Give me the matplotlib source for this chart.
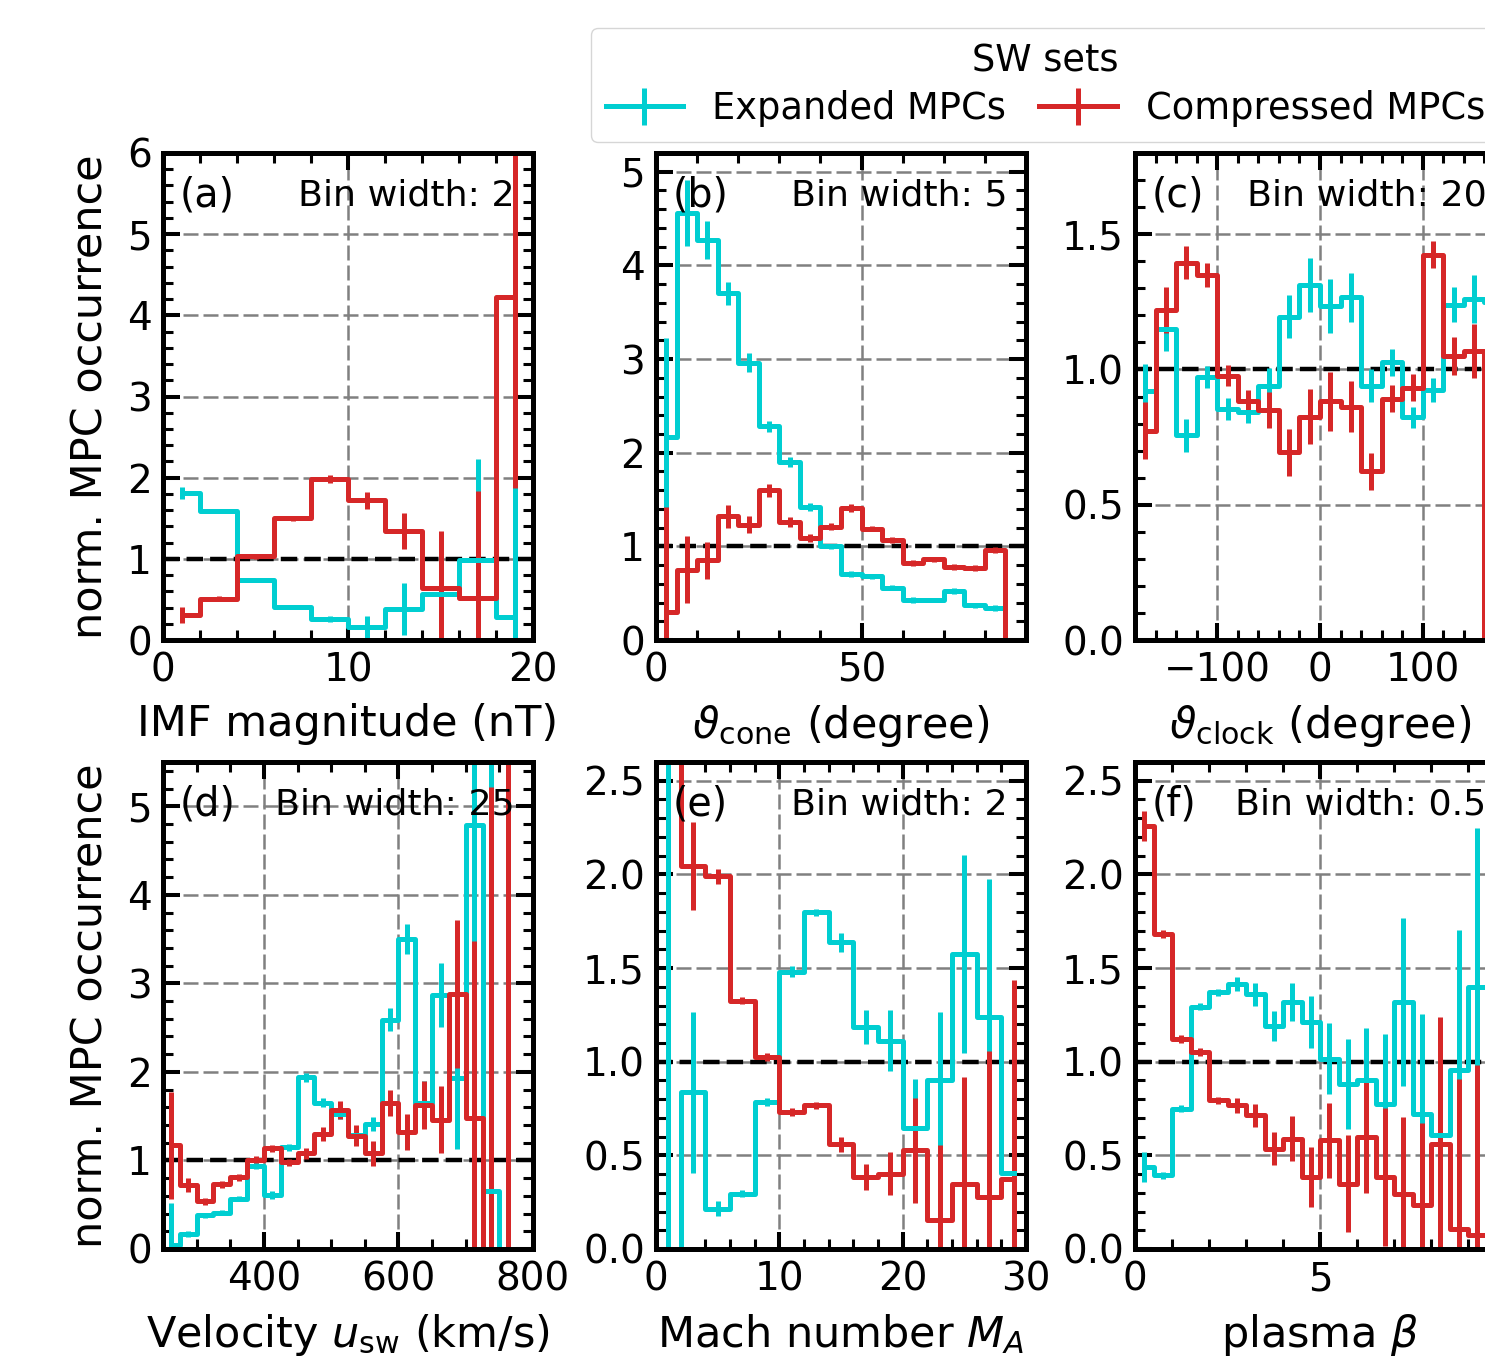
import numpy as np
import matplotlib
matplotlib.use('Agg')
import matplotlib.pyplot as plt
from matplotlib.ticker import MultipleLocator, FuncFormatter

nan = np.nan

# ---------------- data ----------------
a_x = [1, 3, 5, 7, 9, 11, 13, 15, 17, 19]
a_exp = [1.81, 1.59, 0.74, 0.41, 0.26, 0.16, 0.38, 0.57, 0.99, 0.285]
a_exp_err = [0.07, 0.03, 0.02, 0.02, 0.04, 0.14, 0.32, 0.5, 1.24, 1.6]
a_cmp = [0.31, 0.51, 1.03, 1.50, 1.98, 1.72, 1.34, 0.64, 0.52, 4.23]
a_cmp_err = [0.1, 0.03, 0.03, 0.03, 0.05, 0.1, 0.22, 0.7, 1.31, 2.36]

b_x = [2.5, 7.5, 12.5, 17.5, 22.5, 27.5, 32.5, 37.5, 42.5, 47.5, 52.5, 57.5,
       62.5, 67.5, 72.5, 77.5, 82.5, 87.5]
b_exp = [2.17, 4.56, 4.27, 3.70, 2.96, 2.28, 1.90, 1.42, 1.00, 0.705, 0.68, 0.56,
         0.43, 0.43, 0.52, 0.37, 0.34, nan]
b_exp_err = [1.05, 0.35, 0.2, 0.12, 0.1, 0.06, 0.05, 0.04, 0.03, 0.03, 0.03, 0.03,
             0.03, 0.02, 0.03, 0.03, 0.03, nan]
b_cmp = [0.30, 0.75, 0.85, 1.32, 1.23, 1.60, 1.26, 1.09, 1.21, 1.41, 1.19, 1.07,
         0.82, 0.86, 0.78, 0.77, 0.96, 0.0]
b_cmp_err = [1.12, 0.36, 0.2, 0.12, 0.09, 0.07, 0.05, 0.04, 0.04, 0.04, 0.03, 0.03,
             0.03, 0.03, 0.03, 0.03, 0.03, 0.0]

c_x = [-170, -150, -130, -110, -90, -70, -50, -30, -10, 10, 30, 50, 70, 90,
       110, 130, 150, 170]
c_exp = [0.92, 1.15, 0.756, 0.971, 0.854, 0.842, 0.94, 1.195, 1.313, 1.235, 1.267,
         0.94, 1.026, 0.823, 0.925, 1.239, 1.26, 1.25]
c_exp_err = [0.1, 0.08, 0.06, 0.04, 0.04, 0.04, 0.065, 0.08, 0.1, 0.1, 0.09, 0.06,
             0.05, 0.04, 0.045, 0.065, 0.09, 0.09]
c_cmp = [0.774, 1.22, 1.395, 1.35, 0.977, 0.885, 0.85, 0.694, 0.826, 0.882, 0.863,
         0.623, 0.892, 0.932, 1.424, 1.05, 1.069, 0.0]
c_cmp_err = [0.105, 0.085, 0.06, 0.045, 0.04, 0.04, 0.066, 0.086, 0.1, 0.11, 0.095,
             0.07, 0.05, 0.05, 0.05, 0.07, 0.1, 0.0]

d_x = [262.5, 287.5, 312.5, 337.5, 362.5, 387.5, 412.5, 437.5, 462.5, 487.5, 512.5,
       537.5, 562.5, 587.5, 612.5, 637.5, 662.5, 687.5, 712.5, 737.5, 762.5, 787.5]
d_exp = [0.05, 0.17, 0.38, 0.41, 0.57, 0.94, 0.61, 1.147, 1.94, 1.65, 1.52, 1.29,
         1.41, 2.59, 3.50, 1.65, 2.87, 1.93, 4.785, 0.65, 0.0, nan]
d_exp_err = [0.47, 0.03, 0.03, 0.03, 0.03, 0.04, 0.04, 0.04, 0.05, 0.05, 0.05, 0.06,
             0.08, 0.13, 0.17, 0.25, 0.36, 0.8, 1.5, 5.0, 0.0, nan]
d_cmp = [1.17, 0.72, 0.54, 0.73, 0.81, 1.01, 1.14, 0.98, 1.08, 1.30, 1.57, 1.28,
         1.08, 1.65, 1.32, 1.63, 1.46, 2.88, 1.48, 0.0, 0.0, nan]
d_cmp_err = [0.6, 0.08, 0.04, 0.04, 0.04, 0.04, 0.04, 0.04, 0.06, 0.08, 0.1, 0.12,
             0.14, 0.15, 0.2, 0.27, 0.38, 0.84, 2.0, 5.22, 6.0, nan]

e_x = [1, 3, 5, 7, 9, 11, 13, 15, 17, 19, 21, 23, 25, 27, 29]
e_exp = [0.0, 0.837, 0.216, 0.296, 0.784, 1.48, 1.797, 1.637, 1.184, 1.113, 0.646,
         0.903, 1.575, 1.237, 0.406]
e_exp_err = [3.0, 0.43, 0.04, 0.02, 0.02, 0.03, 0.02, 0.05, 0.09, 0.165, 0.26,
             0.36, 0.53, 0.74, 0.9]
e_cmp = [3.2, 2.046, 1.99, 1.326, 1.024, 0.731, 0.767, 0.559, 0.384, 0.402, 0.527,
         0.157, 0.349, 0.278, 0.376]
e_cmp_err = [0.4, 0.235, 0.04, 0.02, 0.02, 0.02, 0.02, 0.04, 0.07, 0.115, 0.28,
             0.4, 0.57, 0.78, 1.06]

f_x = [0.25, 0.75, 1.25, 1.75, 2.25, 2.75, 3.25, 3.75, 4.25, 4.75, 5.25, 5.75,
       6.25, 6.75, 7.25, 7.75, 8.25, 8.75, 9.25, 9.75]
f_exp = [0.438, 0.393, 0.749, 1.294, 1.37, 1.415, 1.36, 1.193, 1.318, 1.211, 1.015,
         0.882, 0.9, 0.776, 1.318, 0.722, 0.607, 0.953, 1.397, 1.2]
f_exp_err = [0.08, 0.02, 0.02, 0.02, 0.02, 0.035, 0.06, 0.08, 0.1, 0.14, 0.19, 0.24,
             0.28, 0.37, 0.45, 0.53, 0.6, 0.75, 0.85, 0.9]
f_cmp = [2.259, 1.682, 1.122, 1.051, 0.793, 0.767, 0.713, 0.536, 0.589, 0.384, 0.58,
         0.349, 0.6, 0.384, 0.296, 0.233, 0.56, 0.109, 0.073, 0.05]
f_cmp_err = [0.08, 0.02, 0.02, 0.02, 0.02, 0.04, 0.06, 0.09, 0.12, 0.16, 0.2, 0.26,
             0.3, 0.37, 0.41, 0.44, 0.68, 0.8, 0.91, 1.0]

panel_tags = ['(a)', '(b)', '(c)', '(d)', '(e)', '(f)']
bin_texts = ['Bin width: 2', 'Bin width: 5', 'Bin width: 20',
             'Bin width: 25', 'Bin width: 2', 'Bin width: 0.5']
xlabels = ['IMF magnitude (nT)', r'$\vartheta_{\mathrm{cone}}$ (degree)',
           r'$\vartheta_{\mathrm{clock}}$ (degree)',
           r'Velocity $u_{\mathrm{sw}}$ (km/s)', r'Mach number $M_A$',
           r'plasma $\beta$']
ylabel = 'norm. MPC occurrence'
series_labels = ['Expanded MPCs', 'Compressed MPCs']
legend_title = 'SW sets'

# ---------------- style ----------------
CYAN = '#00CED1'
RED = '#D62728'
W, H = 1485, 1367
TICK_FS = 28
LABEL_FS = 31
TAG_FS = 28.5
TEXT_FS = 26.2
LEG_FS = 26.5

fig = plt.figure(figsize=(W / 100, H / 100), dpi=100)


def ax_at(left, top, w=370, h=487):
    return fig.add_axes([left / W, 1 - (top + h) / H, w / W, h / H])


specs = [
    (163, 153, a_x, a_exp, a_exp_err, a_cmp, a_cmp_err, (0, 20), (0, 6), 10, 2, 1, 0.2),
    (656, 153, b_x, b_exp, b_exp_err, b_cmp, b_cmp_err, (0, 90), (0, 5.2), 50, 10, 1, 0.2),
    (1135, 153, c_x, c_exp, c_exp_err, c_cmp, c_cmp_err, (-180, 180), (0, 1.8), 100, 20, 0.5, 0.1),
    (163, 762, d_x, d_exp, d_exp_err, d_cmp, d_cmp_err, (250, 800), (0, 5.5), 200, 50, 1, 0.2),
    (656, 762, e_x, e_exp, e_exp_err, e_cmp, e_cmp_err, (0, 30), (0, 2.6), 10, 2, 0.5, 0.1),
    (1135, 762, f_x, f_exp, f_exp_err, f_cmp, f_cmp_err, (0, 10), (0, 2.6), 5, 1, 0.5, 0.1),
]

handles = None
for i, (l, t, x, ye, ee, yc, ec, xl, yl, xmaj, xmin, ymaj, ymin) in enumerate(specs):
    ax = ax_at(l, t)
    ax.set_axisbelow(True)
    ax.grid(True, which='major', color='gray', linestyle=(0, (6, 2)), lw=1.8)
    ax.axhline(1.0, color='k', ls='--', lw=3.2, zorder=1.5)
    h1 = ax.errorbar(x, ye, yerr=ee, drawstyle='steps-mid', color=CYAN,
                     lw=3.6, elinewidth=3.6, label=series_labels[0])
    h2 = ax.errorbar(x, yc, yerr=ec, drawstyle='steps-mid', color=RED,
                     lw=3.6, elinewidth=3.6, label=series_labels[1])
    if handles is None:
        handles = [h1, h2]
    ax.set_xlim(*xl)
    ax.set_ylim(*yl)
    ax.xaxis.set_major_locator(MultipleLocator(xmaj))
    ax.xaxis.set_minor_locator(MultipleLocator(xmin))
    ax.yaxis.set_major_locator(MultipleLocator(ymaj))
    ax.yaxis.set_minor_locator(MultipleLocator(ymin))
    if i == 5:
        # the tick label at the right limit falls outside the picture
        ax.xaxis.set_major_formatter(
            FuncFormatter(lambda v, p: '' if v > 9.5 else f'{v:g}'))
    ax.tick_params(which='both', direction='in', top=True, right=True,
                   labelsize=TICK_FS, pad=8)
    ax.tick_params(which='major', length=12, width=2.9)
    ax.tick_params(which='minor', length=7, width=2.2)
    for sp in ax.spines.values():
        sp.set_linewidth(3.6)
    ax.set_xlabel(xlabels[i], fontsize=LABEL_FS, labelpad=10)
    if i in (0, 3):
        ax.set_ylabel(ylabel, fontsize=LABEL_FS, labelpad=11)
    ax.text(0.045, 0.912, panel_tags[i], transform=ax.transAxes,
            fontsize=TAG_FS, ha='left', va='center')
    ax.text(0.95, 0.912, bin_texts[i], transform=ax.transAxes,
            fontsize=TEXT_FS, ha='right', va='center')

fig.legend(handles, series_labels, title=legend_title, ncol=2,
           loc='lower left', bbox_to_anchor=(591 / W, 1 - 142 / H),
           borderaxespad=0, fontsize=LEG_FS, title_fontsize=LEG_FS,
           handlelength=2.1, columnspacing=0.9, labelspacing=0.3)

fig.savefig('out.png', dpi=100)
